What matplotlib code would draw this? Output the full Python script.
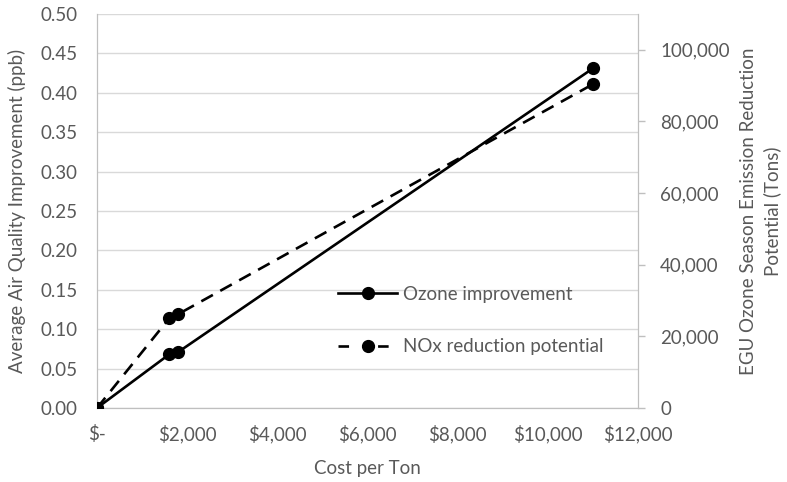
import matplotlib
matplotlib.use('Agg')
import matplotlib.pyplot as plt
from matplotlib.lines import Line2D
from matplotlib.ticker import FuncFormatter, MultipleLocator

plt.rcParams['font.family'] = ['Lato', 'DejaVu Sans']

# data
cost = [0, 1600, 1800, 11000]
ozone = [0.0, 0.068, 0.071, 0.431]          # ppb, left axis
nox = [0, 25000, 26200, 90400]               # tons, right axis

grey = '#595959'
grid_grey = '#d9d9d9'
spine_grey = '#bfbfbf'
fs = 13.5
ms = 8.5

fig = plt.figure(figsize=(7.87, 4.82), dpi=100)
ax = fig.add_axes([97/787, 1-408/482, (638-97)/787, (408-14)/482])
ax2 = ax.twinx()

l1, = ax.plot(cost, ozone, color='black', lw=1.9, marker='o', ms=ms,
              label='Ozone improvement', zorder=3)
ax2.plot(cost, nox, color='black', lw=1.9, ls=(0, (5, 3.2)), marker='o', ms=ms, zorder=3)
# legend proxy: dash - dot - dash like the Excel key
l2 = Line2D([], [], color='black', lw=1.9, ls=(0, (4.0, 11.0)), marker='o', ms=ms,
            label='NOx reduction potential')

ax.set_xlim(0, 12000)
ax.set_ylim(0, 0.5)
ax2.set_ylim(0, 110000)

ax.xaxis.set_major_locator(MultipleLocator(2000))
ax.yaxis.set_major_locator(MultipleLocator(0.05))
ax2.yaxis.set_major_locator(MultipleLocator(20000))

ax.xaxis.set_major_formatter(FuncFormatter(lambda v, p: '$-' if v == 0 else '${:,.0f}'.format(v)))
ax.yaxis.set_major_formatter(FuncFormatter(lambda v, p: '{:.2f}'.format(v)))
ax2.yaxis.set_major_formatter(FuncFormatter(lambda v, p: '{:,.0f}'.format(v)))

ax.grid(axis='y', color=grid_grey, lw=1.0)
ax.set_axisbelow(True)

for a in (ax, ax2):
    for s in a.spines.values():
        s.set_color(spine_grey)
    a.spines['top'].set_visible(False)

ax.tick_params(axis='y', length=0, labelsize=fs, labelcolor=grey, pad=14)
ax.tick_params(axis='x', length=0, labelsize=fs, labelcolor=grey, pad=12)
ax2.tick_params(axis='y', length=5, width=1, color=spine_grey, labelsize=fs,
                labelcolor=grey, pad=11)

ax.set_xlabel('Cost per Ton', fontsize=fs, color=grey)
ax.xaxis.set_label_coords(0.5, -(460-408)/394)
ax.set_ylabel('Average Air Quality Improvement (ppb)', fontsize=fs, color=grey)
ax.yaxis.set_label_coords(-(97-26)/541, 0.5)
ax2.set_ylabel('EGU Ozone Season Emission Reduction\nPotential (Tons)', fontsize=fs,
               color=grey, linespacing=1.4)
ax2.yaxis.set_label_coords((740-97)/541, 0.5)

leg = ax2.legend(handles=[l1, l2], loc='center left', bbox_to_anchor=(0.429, 0.222),
                 frameon=False, borderpad=0, handlelength=3.1, handletextpad=0.32,
                 labelspacing=1.9, fontsize=fs)
for t in leg.get_texts():
    t.set_color(grey)

fig.savefig('out.png', dpi=100)
